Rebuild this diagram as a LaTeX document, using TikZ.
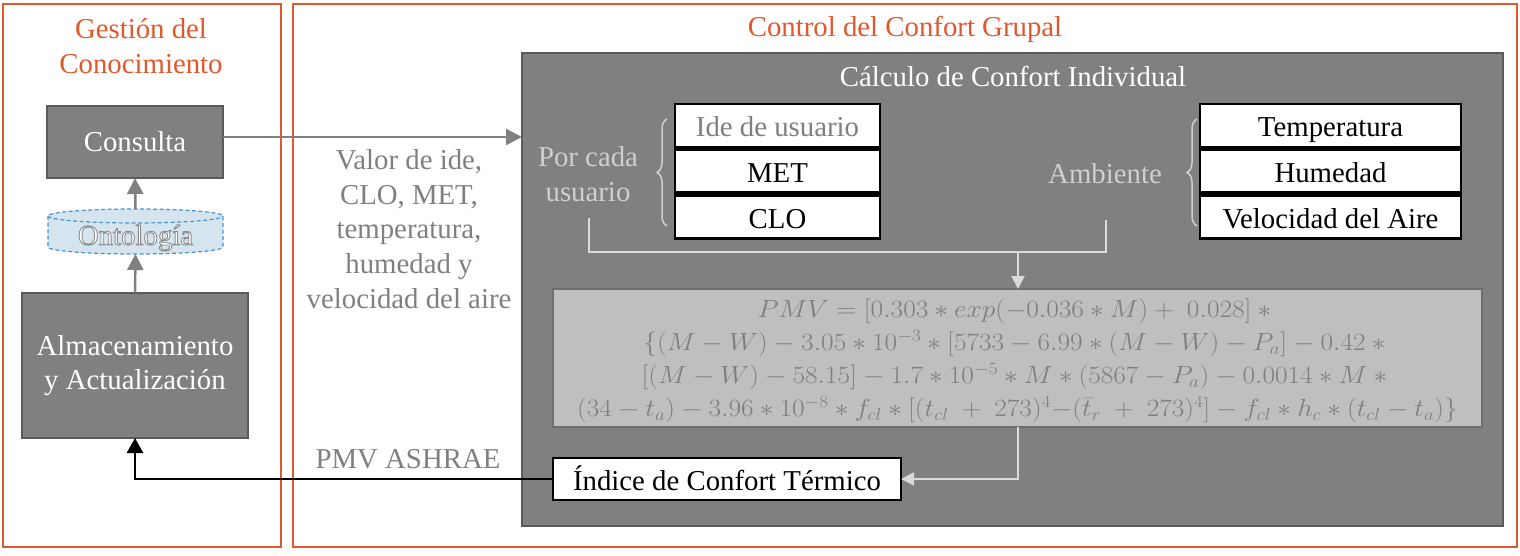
\documentclass[tikz,border=0pt]{standalone}
\usepackage{fontspec}
\setmainfont{Liberation Serif}
\usetikzlibrary{arrows.meta,decorations.pathreplacing,calc}
\definecolor{orng}{HTML}{E2572C}
\definecolor{boxgray}{HTML}{808080}
\definecolor{boxedge}{HTML}{5A5A5A}
\definecolor{txtgray}{HTML}{7F7F7F}
\definecolor{lightlab}{HTML}{CFCFCF}
\definecolor{lightline}{HTML}{DADADA}
\definecolor{formfill}{HTML}{BFBFBF}
\definecolor{formedge}{HTML}{6E6E6E}
\definecolor{ontofill}{HTML}{D4E5EF}
\definecolor{ontoedge}{HTML}{4F93C8}
\newcommand{\bigfont}{\fontsize{28.8pt}{34.6pt}\selectfont}
\newcommand{\formfont}{\fontsize{25pt}{33pt}\selectfont}
\newcommand{\fline}[1]{\scalebox{1.1}[1]{$#1$}}
\newcommand{\outlinedtext}[1]{\special{pdf:literal direct 2 Tr 0.9 w 0.55 0.55 0.55 RG}#1\special{pdf:literal direct 0 Tr}}
\tikzset{
  frame/.style={draw=orng, line width=1.5pt, inner sep=0pt, outer sep=0pt},
  darkbox/.style={draw=boxedge, line width=2.5pt, fill=boxgray, text=white, inner sep=0pt, outer sep=0pt},
  calcbox/.style={draw=boxedge, line width=2.5pt, fill=boxgray, inner sep=0pt, outer sep=0pt},
  wbox/.style={draw=black, line width=2.5pt, fill=white, inner sep=0pt, outer sep=0pt, text height=25pt, text depth=2pt},
  formbox/.style={draw=formedge, line width=2.5pt, fill=formfill, inner sep=0pt, outer sep=0pt},
  grayarrow/.style={draw=boxgray, line width=2.5pt, -{Triangle[length=16pt,width=16pt]}},
  blackarrow/.style={draw=black, line width=2.5pt, -{Triangle[length=15pt,width=16pt]}},
  lightconn/.style={draw=lightline, line width=2pt},
  lightarrow/.style={draw=lightline, line width=2pt, -{Triangle[length=13pt,width=13pt]}},
  bracest/.style={draw=lightlab, line width=1.5pt, decorate, decoration={brace, amplitude=10pt}},
}
\begin{document}
\begin{tikzpicture}[x=1pt, y=-1pt, every node/.style={font=\bigfont}]
\useasboundingbox (0,0) rectangle (1520,556);
% frames
\node[frame, minimum width=278, minimum height=543] (fgc) at (142,275.5) {};
\node[frame, minimum width=1224, minimum height=543] (fcg) at (905,275.5) {};
\node[text=orng, align=center] (tgc) at (141,46) {Gestión del\\Conocimiento};
\node[text=orng] (tcg) at (905,29) {Control del Confort Grupal};

% left column
\node[darkbox, minimum width=176, minimum height=72] (cons) at (135,142) {Consulta};
\node[darkbox, minimum width=226, minimum height=145, align=center] (alm) at (135,365.5) {Almacenamiento\\y Actualización};
\fill[ontofill] (48,216) -- (48,247) arc[start angle=180, end angle=0, x radius=87.5, y radius=7]
  -- (223,216) arc[start angle=0, end angle=-180, x radius=87.5, y radius=7] -- cycle;
\draw[ontoedge, line width=1.2pt, dash pattern=on 4pt off 2.5pt] (48,216) -- (48,247) arc[start angle=180, end angle=0, x radius=87.5, y radius=7]
  -- (223,216) arc[start angle=0, end angle=-180, x radius=87.5, y radius=7] -- cycle;
\draw[ontoedge, line width=1.2pt, dash pattern=on 4pt off 2.5pt] (48,216) arc[start angle=180, end angle=0, x radius=87.5, y radius=7];
\node[minimum width=175, minimum height=45, inner sep=0pt, outer sep=0pt] (onto) at (135.5,231.5) {};
\node[text=white] (ontolab) at (135.5,238) {\outlinedtext{Ontología}};
\draw[grayarrow] (alm.north) -- (onto.south);
\draw[grayarrow] (onto.north) -- (cons.south);

% calc box
\node[calcbox, minimum width=981, minimum height=473] (calc) at (1012.5,289.5) {};
\node[text=white] (tci) at (1013,77) {Cálculo de Confort Individual};

\draw[grayarrow] ($(cons.east)+(0,-5)$) -- ($(calc.west |- cons.east)+(0,-5)$);
\node[text=txtgray, align=center] (valor) at (409,229) {Valor de ide,\\CLO, MET,\\temperatura,\\humedad y\\velocidad del aire};

% user inputs
\node[text=lightlab, align=center] (pcu) at (588,174) {Por cada\\usuario};
\draw[bracest] (667,226) -- (667,119);
\node[wbox, text=txtgray, minimum width=205, minimum height=43] (ide) at (777.5,125.5) {Ide de usuario};
\node[wbox, minimum width=205, minimum height=43] (met) at (777.5,171) {MET};
\node[wbox, minimum width=205, minimum height=43] (clo) at (777.5,217) {CLO};

% environment inputs
\node[text=lightlab] (amb) at (1105,174) {Ambiente};
\draw[bracest] (1197,226) -- (1197,119);
\node[wbox, minimum width=261, minimum height=43] (temp) at (1330.5,125.5) {Temperatura};
\node[wbox, minimum width=261, minimum height=43] (hum) at (1330.5,171) {Humedad};
\node[wbox, minimum width=261, minimum height=43] (vel) at (1330.5,217) {Velocidad del Aire};

% formula
\node[formbox, minimum width=929, minimum height=138] (form) at (1017.5,358) {};
\node[text=txtgray, align=center, font=\formfont, inner sep=0pt] (ftxt) at (1017.5,361) {%
\fline{PMV = [0.303 \ast exp(-0.036 \ast M) +\ 0.028] \ast{}}\\
\fline{\{(M - W) - 3.05 \ast 10^{-3} \ast [5733 - 6.99 \ast (M - W) - P_a] - 0.42 \ast{}}\\
\fline{[(M - W) - 58.15] - 1.7 \ast 10^{-5} \ast M \ast (5867 - P_a) - 0.0014 \ast M \ast{}}\\
\fline{(34 - t_a) - 3.96 \ast 10^{-8} \ast f_{cl} \ast [(t_{cl}\ +\ 273)^4{-}(\bar{t}_r\ +\ 273)^4] - f_{cl} \ast h_c \ast (t_{cl} - t_a)\}}};

% connectors into formula
\coordinate (pcub) at (589,218);
\coordinate (ambb) at (1106,220);
\coordinate (jn) at (1018,252);
\draw[lightconn] (pcub) |- (jn) -| (ambb);
\draw[lightarrow] (jn) -- (jn |- form.north);

% index
\node[wbox, minimum width=348, minimum height=42] (ind) at (727,479) {Índice de Confort Térmico};
\draw[lightarrow] (jn |- form.south) |- (ind.east);
\draw[blackarrow] (ind.west) -| (alm.south);
\node[text=txtgray] (pmv) at (408,459) {PMV ASHRAE};
\end{tikzpicture}
\end{document}
